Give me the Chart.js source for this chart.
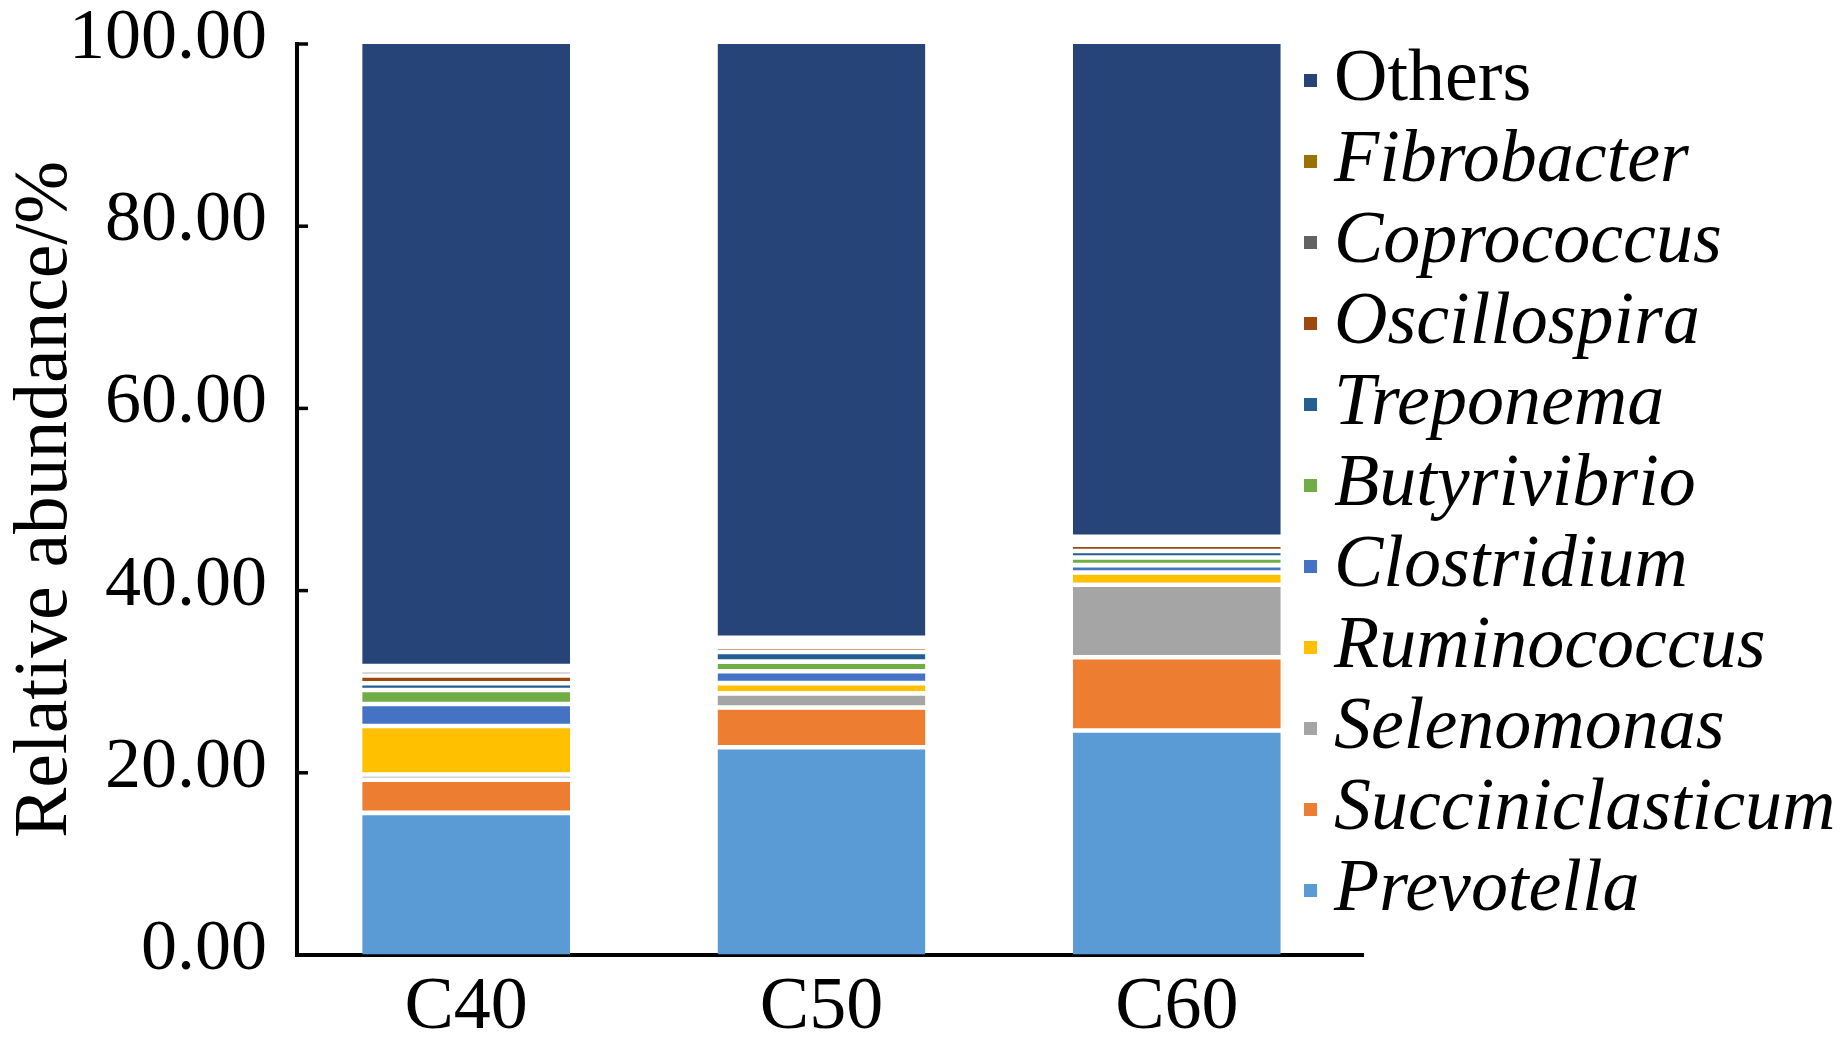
<!DOCTYPE html>
<html>
<head>
<meta charset="utf-8">
<script src="https://cdn.jsdelivr.net/npm/chart.js@4"></script>
<style>
  body { margin: 0; background: #fff; }
  #wrap { position: relative; width: 1841px; height: 1056px; }
  #leyenda { position: absolute; left: 1304px; top: 35px; font-family: "Liberation Serif", "Times New Roman", serif; font-size: 74px; color: #000; }
  .fila { position: relative; height: 81px; line-height: 81px; white-space: nowrap; }
  .marca { position: absolute; left: 0; top: 39px; width: 13px; height: 13px; }
  .texto { position: absolute; left: 30px; top: 0; }
</style>
</head>
<body>
<div id="wrap">
  <canvas id="chartAbundancia"></canvas>
  <div id="leyenda"></div>
</div>
<script>
// Datos (abundancia relativa, %)
const grupos = ["C40", "C50", "C60"];
const prevotella = [15.6, 22.8, 24.64];
const succiniclasticum = [3.63, 4.36, 8.05];
const selenomonas = [0.58, 1.56, 7.95];
const ruminococcus = [5.32, 1.12, 1.34];
const clostridium = [2.42, 1.31, 0.82];
const butyrivibrio = [1.54, 1.05, 0.83];
const treponema = [0.74, 1.06, 0.71];
const oscillospira = [0.85, 0.55, 0.71];
const coprococcus = [0.55, 0.5, 0.45];
const fibrobacter = [0.5, 0.5, 0.4];
const others = [68.27, 65.19, 54.1];

// Orden de apilado, de abajo hacia arriba
const generos = ["Prevotella", "Succiniclasticum", "Selenomonas", "Ruminococcus", "Clostridium",
  "Butyrivibrio", "Treponema", "Oscillospira", "Coprococcus", "Fibrobacter", "Others"];
const valores = [prevotella, succiniclasticum, selenomonas, ruminococcus, clostridium,
  butyrivibrio, treponema, oscillospira, coprococcus, fibrobacter, others];
const colores = ["#5B9BD5", "#ED7D31", "#A5A5A5", "#FFC000", "#4472C4",
  "#70AD47", "#255E91", "#9E480E", "#636363", "#997300", "#264478"];
const yTicks = [0, 20, 40, 60, 80, 100];

const fuente = "'Liberation Serif', 'Times New Roman', serif";

// Marcas del eje Y hacia dentro
const marcasInternas = {
  id: "marcasInternas",
  afterDraw(chart) {
    const y = chart.scales.y;
    const ctx = chart.ctx;
    ctx.save();
    ctx.strokeStyle = "#000";
    ctx.lineWidth = 3.5;
    yTicks.forEach((v) => {
      const py = y.getPixelForValue(v);
      ctx.beginPath();
      ctx.moveTo(y.right, py);
      ctx.lineTo(y.right + 11, py);
      ctx.stroke();
    });
    ctx.restore();
  },
};

function crearGrafico(ctx) {
  const datasets = generos.map((g, i) => ({
    label: g,
    data: valores[i],
    backgroundColor: colores[i],
    borderColor: "#ffffff",
    borderWidth: {
      top: i === generos.length - 1 ? 0 : 2.3,
      bottom: i === 0 ? 0 : 2.3,
      left: 0,
      right: 0,
    },
    borderSkipped: false,
    barPercentage: 0.585,
    categoryPercentage: 1,
  }));

  return new Chart(ctx, {
    type: "bar",
    data: { labels: grupos, datasets: datasets },
    options: {
      responsive: true,
      maintainAspectRatio: false,
      animation: false,
      layout: { padding: { left: 0, top: 44, right: 478, bottom: 0 } },
      plugins: { legend: { display: false }, tooltip: { enabled: false } },
      scales: {
        x: {
          stacked: true,
          grid: { display: true, drawOnChartArea: false, drawTicks: false },
          border: { display: true, color: "#000", width: 4 },
          ticks: { color: "#000", padding: 9, font: { family: fuente, size: 74, lineHeight: 1.2 } },
          afterFit: (scale) => { scale.height = 101; },
          // en el original las barras quedan un poco a la izquierda del centro de cada categoría
          afterUpdate: (scale) => { scale._startValue += 0.024; },
        },
        y: {
          stacked: true,
          min: 0,
          max: 100,
          // marcas hacia fuera invisibles, solo para separar las etiquetas del eje
          grid: { display: true, drawOnChartArea: false, drawTicks: true, tickLength: 30, tickColor: "rgba(0,0,0,0)" },
          border: { display: true, color: "#000", width: 4 },
          afterBuildTicks: (scale) => { scale.ticks = yTicks.map((v) => ({ value: v })); },
          ticks: {
            color: "#000",
            padding: 0,
            labelOffset: -5,
            font: { family: fuente, size: 72, lineHeight: 1.2 },
            callback: (v) => Number(v).toFixed(2),
          },
          title: {
            display: true,
            text: "Relative abundance/%",
            color: "#000",
            padding: { top: 8, bottom: 0 },
            font: { family: fuente, size: 75.5, lineHeight: 1 },
          },
          afterFit: (scale) => { scale.width = 297; },
        },
      },
    },
    plugins: [marcasInternas],
  });
}

// Leyenda en HTML (Others arriba, cursiva para los géneros)
function crearLeyenda() {
  const cont = document.getElementById("leyenda");
  for (let i = generos.length - 1; i >= 0; i--) {
    const fila = document.createElement("div");
    fila.className = "fila";
    const marca = document.createElement("span");
    marca.className = "marca";
    marca.style.background = colores[i];
    const texto = document.createElement("span");
    texto.className = "texto";
    texto.textContent = generos[i];
    texto.style.fontStyle = generos[i] === "Others" ? "normal" : "italic";
    fila.appendChild(marca);
    fila.appendChild(texto);
    cont.appendChild(fila);
  }
}

document.addEventListener("DOMContentLoaded", () => {
  const ctx = document.getElementById("chartAbundancia").getContext("2d");
  crearGrafico(ctx);
  crearLeyenda();
});
</script>
</body>
</html>
